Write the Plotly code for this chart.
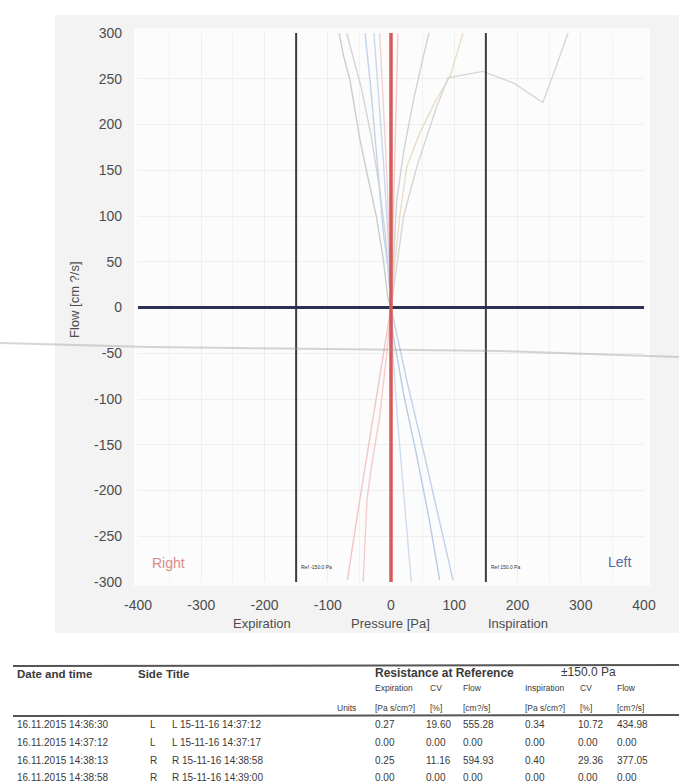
import plotly.graph_objects as go

# ---------------- data ----------------
# Flow / pressure curves (pressure in Pa, flow in cm3/s)
c1_p = [0, -5, -12, -23, -38, -49, -65, -75, -82]
c1_f = [0, 10, 52, 99, 147, 183, 249, 275, 300]
c2_p = [0, -3, -9, -18, -32, -47, -60, -70]
c2_f = [0, 30, 80, 130, 190, 240, 275, 300]
c3_p = [0, -4, -12, -22, -32, -41]
c3_f = [0, 40, 81, 160, 240, 300]
c4_p = [0, -2, -5, -12, -20, -27]
c4_f = [0, 40, 81, 160, 240, 300]
c5_p = [0, 3, 6, 9, 11]
c5_f = [0, 75, 150, 225, 300]
c6_p = [0, 4, 9, 20, 35, 51, 60]
c6_f = [0, 55, 117, 170, 225, 274, 300]
c7_p = [0, 6, 14, 25, 45, 70, 93, 114]
c7_f = [0, 50, 100, 154, 190, 225, 252, 300]
c8_p = [0, 8, 20, 41, 70, 90, 145, 195, 240, 262, 280]
c8_f = [0, 40, 100, 154, 215, 251, 258, 245, 224, 265, 300]
c9_p = [0, -2, -5, -9, -14, -18]
c9_f = [0, 60, 120, 180, 240, 300]

p1_p = [0, -12, -26, -40, -55, -69]
p1_f = [0, -50, -112, -170, -235, -298]
p2_p = [0, -6, -18, -30, -38, -44]
p2_f = [0, -46, -120, -170, -210, -300]
b1_p = [0, 3, 20, 41, 60, 77]
b1_f = [0, -28, -95, -163, -230, -298]
b2_p = [0, 8, 25, 51, 75, 98]
b2_f = [0, -25, -80, -156, -228, -298]
b3_p = [0, 4, 10, 17, 24, 32]
b3_f = [0, -60, -120, -180, -240, -300]

# Right-side curve (drawn as a single strong red line)
red_p = [0, 0, 0]
red_f = [300, 0, -300]

# Reference pressures and flow axis extent
ref_pressures = [-150, 150]
flow_extent = [-300, 300]
pressure_extent = [-400, 400]

x_ticks = [-400, -300, -200, -100, 0, 100, 200, 300, 400]
x_tick_labels = ["-400", "-300", "-200", "-100", "0", "100", "200", "300", "400"]
y_ticks = [300, 250, 200, 150, 100, 50, 0, -50, -100, -150, -200, -250, -300]
y_tick_labels = ["300", "250", "200", "150", "100", "50", "0", "-50", "-100",
                 "-150", "-200", "-250", "-300"]

# Measurement table
dates = ["16.11.2015 14:36:30", "16.11.2015 14:37:12",
         "16.11.2015 14:38:13", "16.11.2015 14:38:58"]
sides = ["L", "L", "R", "R"]
titles = ["L 15-11-16 14:37:12", "L 15-11-16 14:37:17",
          "R 15-11-16 14:38:58", "R 15-11-16 14:39:00"]
exp_res = ["0.27", "0.00", "0.25", "0.00"]
exp_cv = ["19.60", "0.00", "11.16", "0.00"]
exp_flow = ["555.28", "0.00", "594.93", "0.00"]
insp_res = ["0.34", "0.00", "0.40", "0.00"]
insp_cv = ["10.72", "0.00", "29.36", "0.00"]
insp_flow = ["434.98", "0.00", "377.05", "0.00"]

# ---------------- figure ----------------
W, H = 679, 783
L, R, T, B = 138, 35, 33, 201
PW, PH = W - L - R, H - T - B
FONT = "Liberation Sans, Arial, sans-serif"


def px_x(px):
    return (px - L) / PW


def px_y(py):
    return (H - B - py) / PH


fig = go.Figure()

faint = [
    (c1_p, c1_f, "#cccccc"), (c2_p, c2_f, "#d4d4d4"),
    (c3_p, c3_f, "#c2d2ea"), (c4_p, c4_f, "#cad8ee"),
    (c5_p, c5_f, "#f2c8c8"), (c6_p, c6_f, "#d2d2d2"),
    (c7_p, c7_f, "#eadcc8"), (c8_p, c8_f, "#d6d6d6"),
    (c9_p, c9_f, "#f4d0d0"),
    (p1_p, p1_f, "#f2c4c4"), (p2_p, p2_f, "#f4cccc"),
    (b1_p, b1_f, "#b8cbe6"), (b2_p, b2_f, "#c0d1ea"),
    (b3_p, b3_f, "#cfdcef"),
]
for px_, fy_, col in faint:
    fig.add_trace(go.Scatter(x=px_, y=fy_, mode="lines",
                             line=dict(color=col, width=1.4),
                             hoverinfo="skip", showlegend=False))

# reference pressure lines
for rp in ref_pressures:
    fig.add_trace(go.Scatter(x=[rp, rp], y=flow_extent, mode="lines",
                             line=dict(color="#3c3c3c", width=2),
                             hoverinfo="skip", showlegend=False))

# zero-flow line
fig.add_trace(go.Scatter(x=pressure_extent, y=[0, 0], mode="lines",
                         line=dict(color="#2b3152", width=3),
                         hoverinfo="skip", showlegend=False))

# red curve
fig.add_trace(go.Scatter(x=red_p, y=red_f, mode="lines",
                         line=dict(color="#d65a5a", width=3.5),
                         hoverinfo="skip", showlegend=False))

shapes = [
    # light grey panel behind the chart
    dict(type="rect", xref="paper", yref="paper", layer="below",
         x0=px_x(55), x1=px_x(679), y0=px_y(633), y1=px_y(15),
         fillcolor="#f3f3f3", line=dict(width=0)),
    # near-white plotting field
    dict(type="rect", xref="paper", yref="paper", layer="below",
         x0=px_x(134), x1=px_x(650), y0=px_y(586), y1=px_y(28),
         fillcolor="#fcfcfc", line=dict(width=0)),
    # paper fold crossing the sheet
    dict(type="path", xref="paper", yref="paper", layer="above",
         path=("M {:.4f} {:.4f} L {:.4f} {:.4f} L {:.4f} {:.4f} "
               "L {:.4f} {:.4f} L {:.4f} {:.4f}").format(
             px_x(0), px_y(343), px_x(150), px_y(347), px_x(330), px_y(349),
             px_x(500), px_y(351), px_x(679), px_y(357)),
         line=dict(color="rgba(150,150,150,0.4)", width=2)),
    # table rules
    dict(type="line", xref="paper", yref="paper",
         x0=px_x(13), x1=px_x(679), y0=px_y(666), y1=px_y(665),
         line=dict(color="#555555", width=2)),
    dict(type="line", xref="paper", yref="paper",
         x0=px_x(13), x1=px_x(679), y0=px_y(716), y1=px_y(715),
         line=dict(color="#555555", width=2)),
]

ann = []


def text(x, y, s, size, color="#3a3a3a", anchor="left", angle=0):
    ann.append(dict(x=px_x(x), y=px_y(y), xref="paper", yref="paper",
                    text=s, showarrow=False, xanchor=anchor, yanchor="middle",
                    textangle=angle,
                    font=dict(family=FONT, size=size, color=color)))


# axis captions
text(74, 300, "Flow [cm ?/s]", 13, "#4d4d4d", "center", -90)
text(262, 623, "Expiration", 13, "#4d4d4d", "center")
text(390, 623, "Pressure [Pa]", 13, "#4d4d4d", "center")
text(518, 623, "Inspiration", 13, "#4d4d4d", "center")
text(150, 563, "Right", 14, "#d88a8a")
text(606, 562, "Left", 14, "#5a6aa6")
text(299, 567, "Ref -150.0 Pa", 5, "#333333")
text(489, 567, "Ref 150.0 Pa", 5, "#333333")

# table header
text(15, 674, "<b>Date and time</b>", 11.5)
text(136, 674, "<b>Side</b>", 11.5)
text(164, 674, "<b>Title</b>", 11.5)
text(373, 673, "<b>Resistance at Reference</b>", 12)
text(559, 672, "±150.0 Pa", 12)
sub_x = [373, 428, 461, 523, 578, 615]
sub_h = ["Expiration", "CV", "Flow", "Inspiration", "CV", "Flow"]
sub_u = ["[Pa s/cm?]", "[%]", "[cm?/s]", "[Pa s/cm?]", "[%]", "[cm?/s]"]
for xx, h1, h2 in zip(sub_x, sub_h, sub_u):
    text(xx, 688, h1, 8.5)
    text(xx, 708, h2, 8.5)
text(335, 708, "Units", 8.5)

row_y = [724, 742, 760, 777]
val_x = [373, 424, 461, 523, 576, 615]
for i, yy in enumerate(row_y):
    text(15, yy, dates[i], 10)
    text(153, yy, sides[i], 10, anchor="center")
    text(170, yy, titles[i], 10)
    vals = [exp_res[i], exp_cv[i], exp_flow[i],
            insp_res[i], insp_cv[i], insp_flow[i]]
    for xx, v in zip(val_x, vals):
        text(xx, yy, v, 10)

fig.update_layout(
    width=W, height=H,
    margin=dict(l=L, r=R, t=T, b=B),
    paper_bgcolor="white", plot_bgcolor="#fcfcfc",
    showlegend=False,
    shapes=shapes, annotations=ann,
    font=dict(family=FONT),
)
fig.update_xaxes(range=pressure_extent, tickvals=x_ticks, ticktext=x_tick_labels,
                 ticks="", showline=False, zeroline=False,
                 showgrid=True, gridcolor="#efefef", gridwidth=1,
                 minor=dict(dtick=50, showgrid=True, gridcolor="#f2f2f2"),
                 ticklabelstandoff=13,
                 tickfont=dict(family=FONT, size=14, color="#4d4d4d"))
fig.update_yaxes(range=flow_extent, tickvals=y_ticks, ticktext=y_tick_labels,
                 ticks="", showline=False, zeroline=False,
                 showgrid=True, gridcolor="#efefef", gridwidth=1,
                 ticklabelstandoff=15,
                 tickfont=dict(family=FONT, size=14, color="#4d4d4d"))

fig.write_html("out.html")
